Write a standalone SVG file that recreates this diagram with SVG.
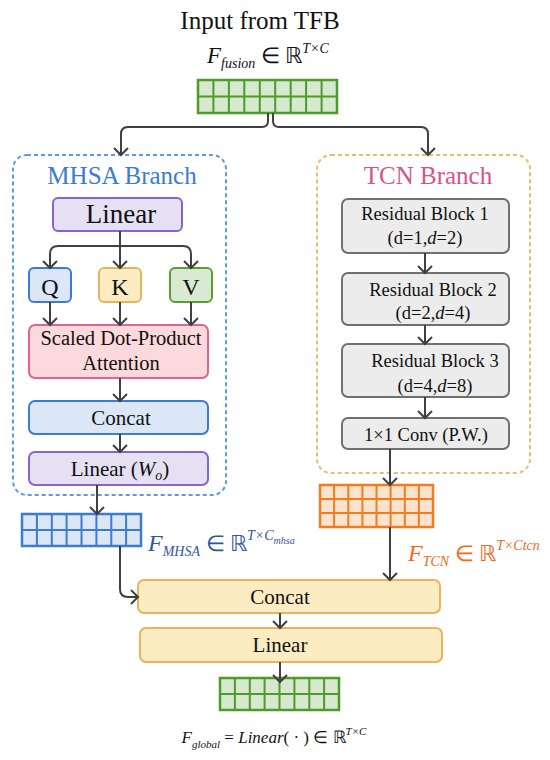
<svg xmlns="http://www.w3.org/2000/svg" width="550" height="760" viewBox="0 0 550 760">
<style>
text{font-family:"Liberation Serif","Times New Roman",serif;fill:#111;}
.c{text-anchor:middle;}
.it{font-style:italic;}
.con{fill:none;stroke:#404040;stroke-width:2;marker-end:url(#ah);}
.box{stroke-width:2;}
.purple{fill:#e6e0f3;stroke:#8a63d2;}
.blue{fill:#dbe7f6;stroke:#3a7bd5;}
.yel{fill:#fcecc2;stroke:#e6b45c;}
.grn{fill:#d9ead2;stroke:#5a9e32;}
.pink{fill:#fbd9dc;stroke:#e0648f;}
.gray{fill:#ececec;stroke:#707070;}
.gridG{fill:#d6e8cd;stroke:#4f9a2c;}
.gridB{fill:#dbe7f6;stroke:#3a7bd5;}
.gridO{fill:#fde3cb;stroke:#f47b20;}
.gl{fill:none;stroke-width:2;}
</style>
<defs>
<marker id="ah" markerUnits="userSpaceOnUse" markerWidth="20" markerHeight="20" viewBox="-10 -10 20 20" refX="0" refY="0" orient="auto">
<path d="M-7,-7 L0,0 L-7,7" fill="none" stroke="#404040" stroke-width="2"/>
</marker>
</defs>
<rect width="550" height="760" fill="#fff"/>

<g id="title">
<text x="260" y="29" class="c" font-size="25">Input from TFB</text>
<text x="207" y="63" font-size="23" class="it">F<tspan font-size="14" dy="5">fusion</tspan><tspan font-style="normal" dy="-5" font-size="22"> ∈ ℝ</tspan><tspan font-size="14" dy="-10">T×C</tspan></text>
</g>

<g id="grid-input">
<rect x="198" y="80" width="139" height="33" class="gridG" stroke-width="2.5"/>
<path class="gl" stroke="#4f9a2c" d="M213.4,80V113M228.9,80V113M244.3,80V113M259.8,80V113M275.2,80V113M290.7,80V113M306.1,80V113M321.6,80V113M198,96.5H337"/>
</g>

<g id="mhsa-branch">
<rect x="13" y="155" width="213" height="340" rx="14" fill="none" stroke="#5b9be6" stroke-width="2" stroke-dasharray="4,3"/>
<text x="122" y="184" class="c" font-size="25" style="fill:#3a7bd5">MHSA Branch</text>
</g>

<g id="linear1"><rect x="53" y="198" width="129" height="33" rx="5" class="box purple"/><text x="121" y="223" class="c" font-size="27">Linear</text></g>
<g id="q"><rect x="29" y="268" width="42" height="34" rx="5" class="box blue"/><text x="50" y="295" class="c" font-size="24">Q</text></g>
<g id="k"><rect x="99" y="268" width="42" height="34" rx="5" class="box yel"/><text x="120" y="295" class="c" font-size="24">K</text></g>
<g id="v"><rect x="170" y="268" width="42" height="34" rx="5" class="box grn"/><text x="191" y="295" class="c" font-size="24">V</text></g>
<g id="attention"><rect x="29" y="325" width="179" height="53" rx="6" class="box pink"/><text x="121" y="345" class="c" font-size="20.5">Scaled Dot-Product</text><text x="121" y="370" class="c" font-size="20.5">Attention</text></g>
<g id="concat1"><rect x="29" y="401" width="179" height="33" rx="6" class="box blue"/><text x="121" y="425" class="c" font-size="21">Concat</text></g>
<g id="linear-wo"><rect x="29" y="452" width="179" height="33" rx="6" class="box purple"/><text x="120" y="476" class="c" font-size="21">Linear (<tspan class="it">W</tspan><tspan class="it" font-size="14" dy="4">o</tspan><tspan dy="-4">)</tspan></text></g>

<g id="grid-mhsa">
<rect x="22" y="514" width="119" height="32" class="gridB" stroke-width="2.5"/>
<path class="gl" stroke="#3a7bd5" d="M36.9,514V546M51.8,514V546M66.6,514V546M81.5,514V546M96.4,514V546M111.3,514V546M126.1,514V546M22,530H141"/>
<text x="148" y="551" font-size="24" class="it" style="fill:#2f55a5">F<tspan font-size="14" dy="5">MHSA</tspan><tspan font-style="normal" dy="-5" font-size="22" style="fill:#2f55a5"> ∈ ℝ</tspan><tspan font-size="14" dy="-11">T×C</tspan><tspan font-size="10" dy="4">mhsa</tspan></text>
</g>

<g id="tcn-branch">
<rect x="317" y="155" width="213" height="318" rx="14" fill="none" stroke="#e9bd6a" stroke-width="2" stroke-dasharray="4,3"/>
<text x="428" y="184" class="c" font-size="25" style="fill:#d4548a">TCN Branch</text>
</g>
<g id="res1"><rect x="342" y="199" width="167" height="54" rx="6" class="box gray"/><text x="425" y="220" class="c" font-size="18.5">Residual Block 1</text><text x="425" y="244" class="c" font-size="18.5">(d=1,<tspan class="it">d</tspan>=2)</text></g>
<g id="res2"><rect x="342" y="273" width="167" height="52" rx="6" class="box gray"/><text x="433" y="296" class="c" font-size="18.5">Residual Block 2</text><text x="433" y="319" class="c" font-size="18.5">(d=2,<tspan class="it">d</tspan>=4)</text></g>
<g id="res3"><rect x="342" y="344" width="167" height="53" rx="6" class="box gray"/><text x="435" y="367" class="c" font-size="18.5">Residual Block 3</text><text x="435" y="392" class="c" font-size="18.5">(d=4,<tspan class="it">d</tspan>=8)</text></g>
<g id="conv"><rect x="342" y="418" width="167" height="31" rx="6" class="box gray"/><text x="426" y="441" class="c" font-size="18.5">1×1 Conv (P.W.)</text></g>

<g id="grid-tcn">
<rect x="320" y="485" width="113" height="42" class="gridO" stroke-width="2.5"/>
<path class="gl" stroke="#f47b20" d="M334.1,485V527M348.3,485V527M362.4,485V527M376.5,485V527M390.6,485V527M404.8,485V527M418.9,485V527M320,499H433M320,513H433"/>
<text x="408" y="561" font-size="24" class="it" style="fill:#f06a20">F<tspan font-size="14" dy="5">TCN</tspan><tspan font-style="normal" dy="-5" font-size="22" style="fill:#f06a20"> ∈ ℝ</tspan><tspan font-size="14" dy="-11">T×Ctcn</tspan></text>
</g>

<g id="concat2"><rect x="138" y="580" width="302" height="33" rx="6" class="box yel"/><text x="280" y="604" class="c" font-size="21">Concat</text></g>
<g id="linear2"><rect x="140" y="628" width="302" height="34" rx="6" class="box yel"/><text x="280" y="652" class="c" font-size="21">Linear</text></g>

<g id="grid-global">
<rect x="220" y="678" width="119" height="32" class="gridG" stroke-width="2.5"/>
<path class="gl" stroke="#4f9a2c" d="M234.9,678V710M249.8,678V710M264.6,678V710M279.5,678V710M294.4,678V710M309.3,678V710M324.1,678V710M220,694H339"/>
<text x="274" y="743" class="c it" font-size="17">F<tspan font-size="11" dy="5">global</tspan><tspan dy="-5" font-style="normal"> = </tspan>Linear<tspan font-style="normal">( · ) ∈ ℝ</tspan><tspan font-size="11" dy="-8">T×C</tspan></text>
</g>

<g id="connectors">
<path class="con" d="M268,113 V121 Q268,127 262,127 H128 Q121,127 121,134 V155"/>
<path class="con" d="M273,113 V121 Q273,127 279,127 H421 Q428,127 428,134 V155"/>
<path class="con" d="M120,231 V268"/>
<path class="con" d="M120,246 H58 Q50,246 50,254 V268"/>
<path class="con" d="M120,246 H183 Q191,246 191,254 V268"/>
<path class="con" d="M50,302 V325"/>
<path class="con" d="M120,302 V325"/>
<path class="con" d="M191,302 V325"/>
<path class="con" d="M120,378 V401"/>
<path class="con" d="M120,434 V452"/>
<path class="con" d="M97,485 V514"/>
<path class="con" d="M120,546 V589 Q120,597 128,597 H138"/>
<path class="con" d="M425,253 V273"/>
<path class="con" d="M425,325 V344"/>
<path class="con" d="M425,397 V418"/>
<path class="con" d="M390,449 V485"/>
<path class="con" d="M390,527 V580"/>
<path class="con" d="M280,613 V628"/>
<path class="con" d="M280,662 V682"/>
</g>
</svg>
